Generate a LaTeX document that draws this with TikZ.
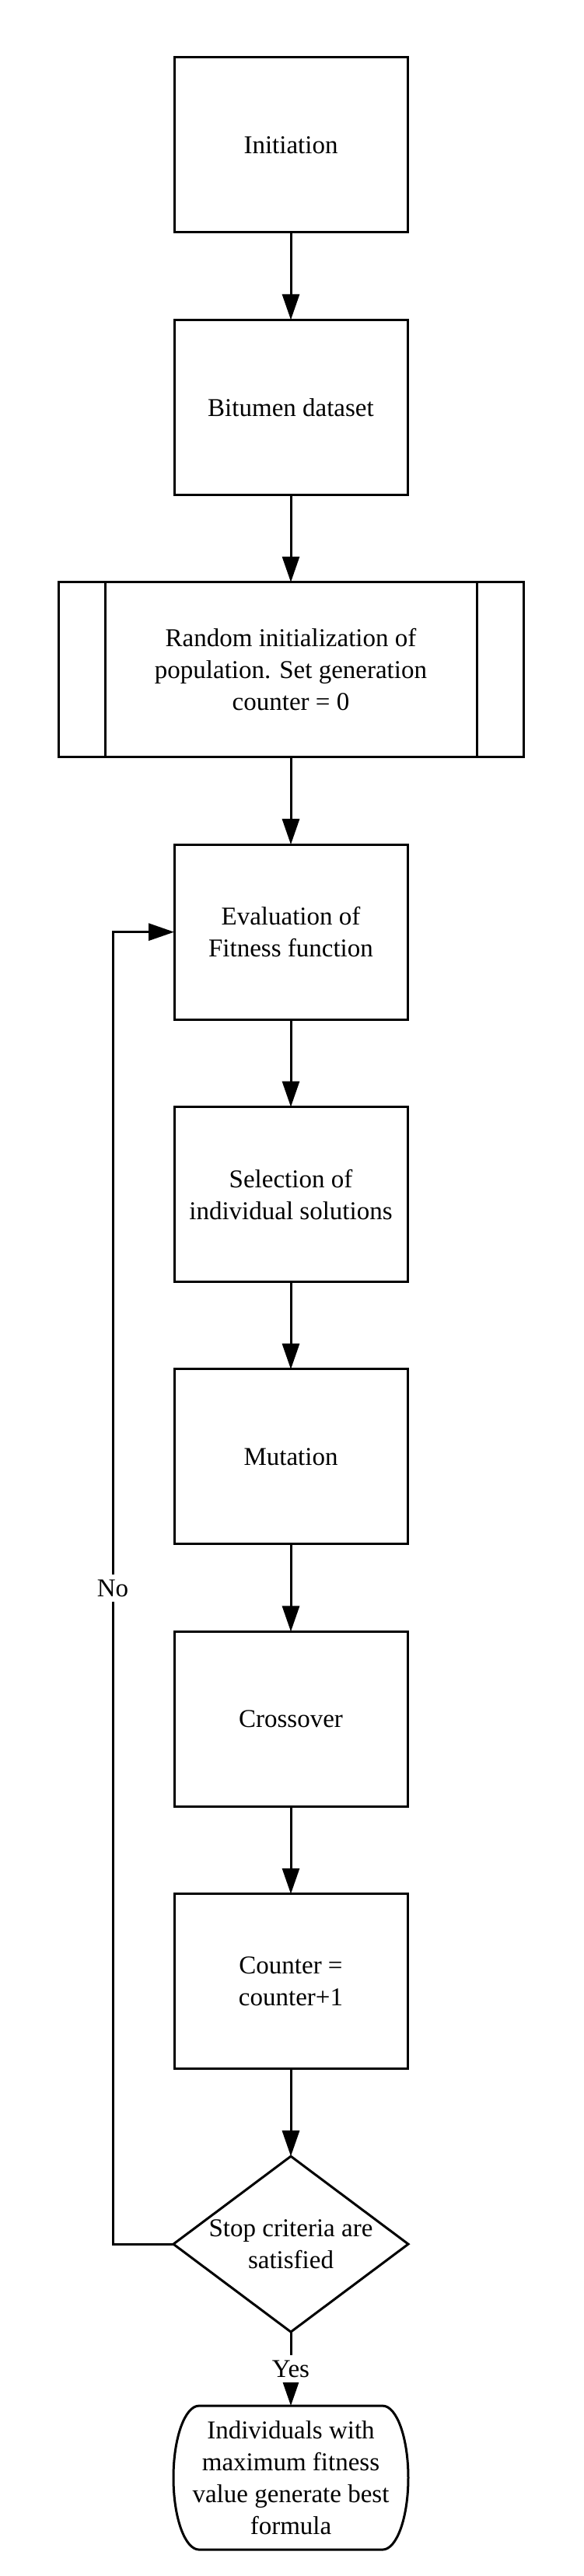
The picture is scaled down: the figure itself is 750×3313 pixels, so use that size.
\documentclass[tikz,border=0pt]{standalone}
\usepackage{fontspec}
\setmainfont{Liberation Serif}
\usetikzlibrary{shapes.geometric, positioning, arrows.meta}

\begin{document}
\begin{tikzpicture}[
			x=0.5pt, y=0.5pt,
			node distance=56.2pt,
			nodes = {
				align = center,
				font=\fontsize{16.5}{20.5}\selectfont
			},
			block/.style={
				draw,
				fill=white,
				rectangle,
				line width=1.5pt,
				outer sep=0pt,
				minimum width=150pt,
				minimum height=112.5pt
			},
			decision/.style={
				draw,
				diamond,
				line width=1.5pt,
				outer sep=0pt,
				inner sep=-6pt,
				minimum width=151pt,
				minimum height=112.5pt
			},
			term/.style={
				rectangle,
				outer sep=0pt,
				inner sep=0pt,
				minimum width=151pt,
				minimum height=92.5pt
			},
			lines/.style={
				line width=1.5pt,
				>={Triangle[length=16.5pt,width=11pt]}
			}
		]
			\useasboundingbox (0,0) rectangle (750,3313);

			\node[block] (init) at (374,3126.5) {Initiation};

			\node[block] (data) [below=of init] {Bitumen dataset};

			\node[block,minimum width=299pt]
				(rand)
				[below=of data]
				{
				Random initialization of\\
				population. Set generation\\
				counter = 0
			};

			\draw[lines] ([xshift=30pt]rand.north west) -- ([xshift=30pt]rand.south west);
			\draw[lines] ([xshift=-30pt]rand.north east) -- ([xshift=-30pt]rand.south east);

			\node[block] (eval) [below=of rand] {Evaluation of\\Fitness function};

			\node[block] (sel) [below=of eval] {Selection of\\individual solutions};

			\node[block] (mut) [below=of sel] {Mutation};

			\node[block] (cross) [below=of mut] {Crossover};

			\node[block] (count) [below=of cross] {Counter =\\counter+1};

			\node[decision] (stop) [below=of count] {Stop criteria are\\satisfied};

			\node[term] (best) [below=47.5pt of stop] {
				Individuals with\\
				maximum fitness\\
				value generate best\\
				formula
			};

			\draw[lines] ([xshift=16.5pt]best.north west) -- ([xshift=-16.5pt]best.north east)
				arc[start angle=90, end angle=-90, x radius=16.5pt, y radius=46.25pt]
				-- ([xshift=16.5pt]best.south west)
				arc[start angle=270, end angle=90, x radius=16.5pt, y radius=46.25pt]
				-- cycle;

			\draw[lines,->] (init) -- (data);
			\draw[lines,->] (data) -- (rand);
			\draw[lines,->] (rand) -- (eval);
			\draw[lines,->] (eval) -- (sel);
			\draw[lines,->] (sel) -- (mut);
			\draw[lines,->] (mut) -- (cross);
			\draw[lines,->] (cross) -- (count);
			\draw[lines,->] (count) -- (stop);
			\draw[lines,->] (stop) -- node[fill=white] (yes) {Yes} (best);
			\draw[lines,->] (stop.west) -- ++(-39pt,0) coordinate (loop)
				|- node[pos=0.25,fill=white] (no) {No} (eval.west);
		\end{tikzpicture}
\end{document}
